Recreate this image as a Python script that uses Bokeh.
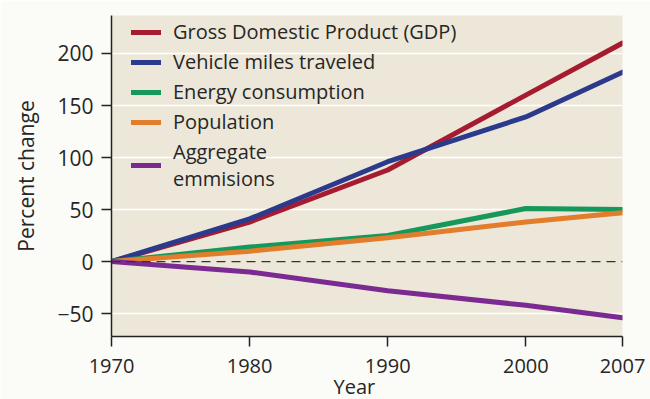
from bokeh.plotting import figure
from bokeh.models import Range1d, Span, FixedTicker, Legend, LegendItem, ColumnDataSource, Title
from bokeh.embed import file_html
from bokeh.resources import INLINE

years = [1970, 1980, 1990, 2000, 2007]
gdp = [0, 38, 88, 160, 210]
vmt = [0, 41, 96, 139, 182]
energy = [0, 14, 25, 51, 50]
population = [0, 10, 23, 38, 47]
emissions = [0, -10, -28, -42, -54]

series_names = ["Gross Domestic Product (GDP)", "Vehicle miles traveled",
                "Energy consumption", "Population", "Aggregate\nemmisions"]
series_values = [gdp, vmt, energy, population, emissions]
series_colors = ["#a51c30", "#2c3a8c", "#16985a", "#e27d2c", "#7b2a92"]

y_ticks = [-50, 0, 50, 100, 150, 200]
grid_ticks = [-50, 50, 100, 150, 200]
x_ticks = [1970, 1980, 1990, 2000, 2007]

FONT = "Open Sans"
TXT = "#262626"

p = figure(width=650, height=399, output_backend="svg", toolbar_location=None,
           x_range=Range1d(1970, 2007), y_range=Range1d(-72, 236.5),
           min_border_left=111, min_border_right=28, min_border_top=15, min_border_bottom=63,
           background_fill_color="#ece7d8", border_fill_color="#fbfbf8")
p.outline_line_color = None

p.xgrid.grid_line_color = None
p.ygrid.ticker = FixedTicker(ticks=grid_ticks)
p.ygrid.grid_line_color = "white"
p.ygrid.grid_line_width = 1.5

p.add_layout(Span(location=0, dimension="width", line_color="#333333",
                  line_width=1.2, line_dash="9 6"))

legend_items = []
for name, vals, col in zip(series_names, series_values, series_colors):
    src = ColumnDataSource(dict(x=years, y=vals))
    r = p.line("x", "y", source=src, line_color=col, line_width=5,
               line_join="round", line_cap="round")
    legend_items.append(LegendItem(label=name, renderers=[r]))

for ax in (p.xaxis[0], p.yaxis[0]):
    ax.axis_line_color = "#222222"
    ax.axis_line_width = 1.5
    ax.major_tick_line_color = "#222222"
    ax.major_tick_line_width = 1.5
    ax.major_tick_out = 10
    ax.major_tick_in = 0
    ax.minor_tick_line_color = None
    ax.major_label_text_font = FONT
    ax.major_label_text_font_size = "20px"
    ax.major_label_text_color = TXT
    ax.axis_label_text_font = FONT
    ax.axis_label_text_font_size = "21px"
    ax.axis_label_text_font_style = "normal"
    ax.axis_label_text_color = TXT

p.yaxis.major_label_text_font_size = "21px"
p.xaxis.ticker = FixedTicker(ticks=x_ticks)
p.yaxis.ticker = FixedTicker(ticks=y_ticks)
p.yaxis.major_label_overrides = {-50: "\u221250"}
p.yaxis.axis_label = "Percent change"
p.xaxis.major_label_standoff = 12
p.yaxis.major_label_standoff = 8
p.yaxis.axis_label_standoff = 14

p.add_layout(Title(text="Year", align="left", offset=222, vertical_align="bottom", standoff=-10,
                   text_font=FONT, text_font_size="20px", text_font_style="normal",
                   text_color=TXT), "below")

legend = Legend(items=legend_items, location=(20, 144), orientation="vertical",
                margin=0, padding=0, spacing=3, glyph_width=30, glyph_height=22,
                label_height=27, label_standoff=12,
                label_text_font=FONT, label_text_font_size="20px",
                label_text_line_height=1.1,
                label_text_color=TXT, background_fill_alpha=0, border_line_color=None)
p.add_layout(legend)

open("out.html", "w").write(file_html(p, INLINE))
